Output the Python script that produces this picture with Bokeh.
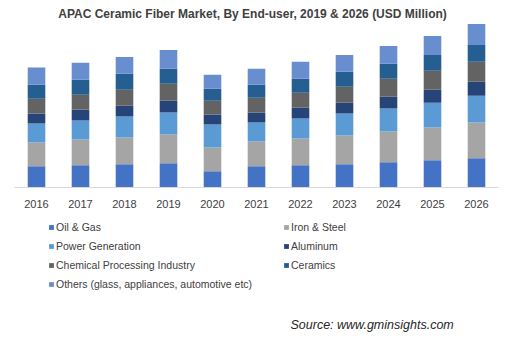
from bokeh.plotting import figure
from bokeh.layouts import column
from bokeh.models import Range1d, Legend, LegendItem, Label, ColumnDataSource
from bokeh.embed import file_html
from bokeh.resources import INLINE

years = ["2016", "2017", "2018", "2019", "2020", "2021", "2022", "2023", "2024", "2025", "2026"]
oil_gas = [21.3, 22.3, 23.3, 24.3, 16.3, 21.3, 22.3, 23.3, 25.3, 27.3, 29.3]
iron_steel = [24, 26, 27, 29, 24, 25, 27, 29, 31, 33, 36]
power_gen = [19, 19, 21, 22, 23, 19, 20, 22, 23, 25, 27]
aluminum = [10, 11, 11, 12, 10, 10, 11, 11, 12, 13, 14]
chemical = [15, 15, 16, 17, 14, 15, 15, 16, 18, 19, 20]
ceramics = [14, 15, 16, 15, 12, 13, 14, 15, 15, 16, 17]
others = [17.3, 17, 17, 19, 14, 16, 17, 17, 18, 19, 21]

series_keys = ["oil", "iron", "power", "alu", "chem", "cer", "oth"]
series_labels = ["Oil & Gas", "Iron & Steel", "Power Generation", "Aluminum",
                 "Chemical Processing Industry", "Ceramics",
                 "Others (glass, appliances, automotive etc)"]
colors = ["#4472C4", "#A5A5A5", "#5B9BD5", "#264478", "#636363", "#255E91", "#698ED0"]

FONT = "Liberation Sans"
TXT = "#404040"

src = ColumnDataSource(dict(years=years, oil=oil_gas, iron=iron_steel, power=power_gen,
                            alu=aluminum, chem=chemical, cer=ceramics, oth=others))

# ---- main chart ----
p = figure(x_range=years, width=532, height=210, output_backend="svg",
           toolbar_location=None, min_border_left=14, min_border_right=34,
           min_border_top=0, min_border_bottom=22)
p.y_range = Range1d(0, 188)

rs = p.vbar_stack(series_keys, x="years", width=0.4, color=colors, source=src, line_width=0)

p.yaxis.visible = False
p.xgrid.visible = False
p.ygrid.visible = False
p.outline_line_color = None
p.xaxis.axis_line_color = "#d9d9d9"
p.xaxis.major_tick_line_color = None
p.xaxis.minor_tick_line_color = None
p.xaxis.major_label_text_font = FONT
p.xaxis.major_label_text_font_size = "11px"
p.xaxis.major_label_text_color = TXT
p.xaxis.major_label_standoff = 6

title = Label(x=238, y=174, x_units="screen", y_units="screen",
              text="APAC Ceramic Fiber Market, By End-user, 2019 & 2026 (USD Million)",
              text_font=FONT, text_font_size="12px", text_font_style="bold",
              text_color=TXT, text_align="center", text_baseline="middle")
p.add_layout(title)

# ---- legend + source panel ----
q = figure(width=532, height=133, output_backend="svg", toolbar_location=None,
           x_axis_type=None, y_axis_type=None, min_border=0,
           min_border_left=0, min_border_right=0, min_border_top=0, min_border_bottom=0,
           x_range=Range1d(0, 1), y_range=Range1d(0, 1))
q.xgrid.visible = False
q.ygrid.visible = False
q.outline_line_color = None

# legend swatches (kept outside the visible range)
dummies = [q.vbar(x=[-10], top=[-10], width=0.4, color=c, line_width=0) for c in colors]

def make_legend(idx, loc):
    items = [LegendItem(label=series_labels[i], renderers=[dummies[i]]) for i in idx]
    return Legend(items=items, location=loc, orientation="vertical",
                  glyph_width=6, glyph_height=6, label_standoff=2,
                  label_height=19, spacing=0, padding=0, margin=0,
                  border_line_alpha=0, background_fill_alpha=0,
                  label_text_font=FONT, label_text_font_size="10.5px",
                  label_text_color=TXT)

q.add_layout(make_legend([0, 2, 4, 6], (34, 50)), "center")
q.add_layout(make_legend([1, 3, 5], (269, 69)), "center")

source = Label(x=276, y=19, x_units="screen", y_units="screen",
               text="Source: www.gminsights.com",
               text_font=FONT, text_font_size="12.5px", text_font_style="italic",
               text_color="#262626", text_align="left", text_baseline="middle")
q.add_layout(source)

layout = column(p, q, spacing=0)
open("out.html", "w").write(file_html(layout, INLINE))
